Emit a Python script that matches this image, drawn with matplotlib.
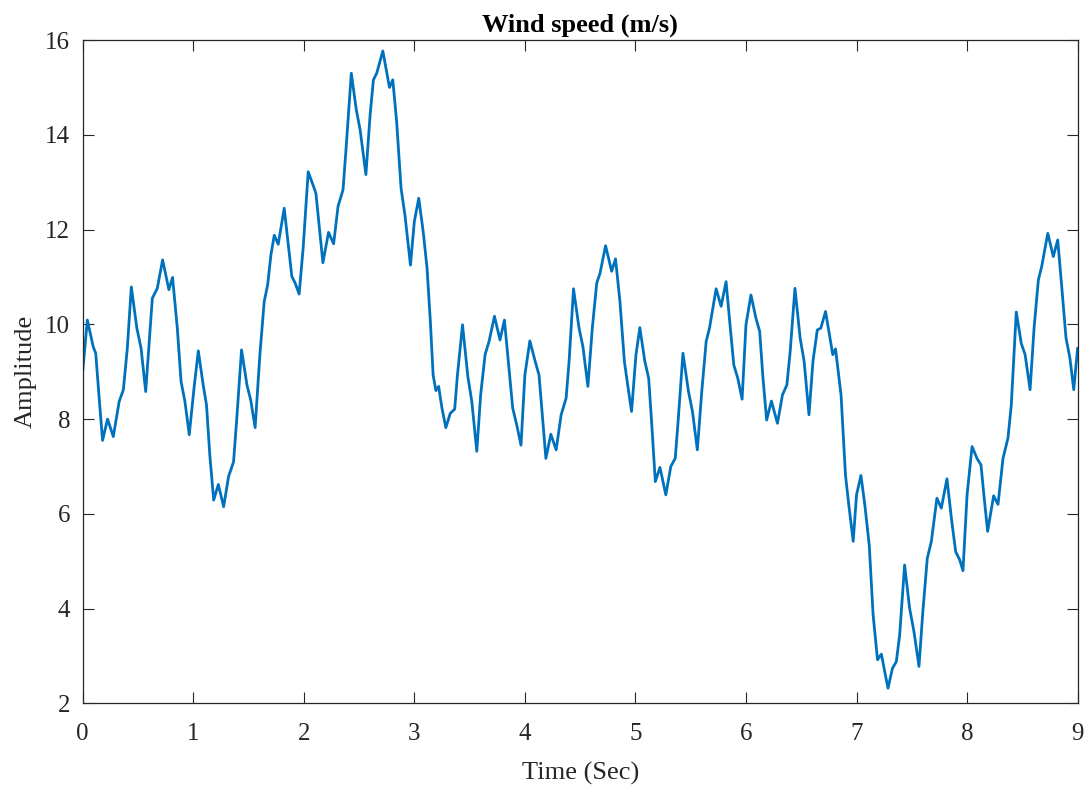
import numpy as np
import matplotlib.pyplot as plt

plt.rcParams['font.family'] = ['Liberation Serif', 'DejaVu Serif']

# wind speed samples (time in s, speed in m/s)
t = [0.0, 0.042, 0.096, 0.118, 0.154, 0.18, 0.225, 0.277, 0.33, 0.368,
     0.404, 0.44, 0.49, 0.528, 0.57, 0.63, 0.675, 0.723, 0.78, 0.813,
     0.856, 0.89, 0.925, 0.964, 1.007, 1.046, 1.09, 1.12, 1.15, 1.185,
     1.227, 1.275, 1.32, 1.365, 1.392, 1.437, 1.486, 1.52, 1.56, 1.603,
     1.642, 1.673, 1.703, 1.733, 1.769, 1.823, 1.853, 1.892, 1.922, 1.958,
     1.994, 2.04, 2.09, 2.11, 2.14, 2.173, 2.224, 2.27, 2.31, 2.355,
     2.382, 2.43, 2.475, 2.51, 2.562, 2.6, 2.63, 2.66, 2.715, 2.775,
     2.805, 2.84, 2.88, 2.915, 2.965, 3.0, 3.04, 3.08, 3.115, 3.145,
     3.17, 3.195, 3.22, 3.25, 3.285, 3.325, 3.365, 3.39, 3.436, 3.484,
     3.52, 3.565, 3.6, 3.64, 3.676, 3.725, 3.775, 3.815, 3.85, 3.89,
     3.926, 3.965, 4.0, 4.045, 4.093, 4.128, 4.158, 4.19, 4.235, 4.283,
     4.328, 4.373, 4.4, 4.44, 4.49, 4.525, 4.57, 4.61, 4.65, 4.68,
     4.73, 4.785, 4.82, 4.86, 4.9, 4.93, 4.965, 5.005, 5.04, 5.085,
     5.12, 5.148, 5.18, 5.222, 5.275, 5.32, 5.36, 5.386, 5.43, 5.48,
     5.516, 5.56, 5.6, 5.64, 5.67, 5.73, 5.775, 5.82, 5.85, 5.89,
     5.926, 5.965, 6.0, 6.045, 6.09, 6.124, 6.154, 6.187, 6.23, 6.285,
     6.33, 6.37, 6.4, 6.443, 6.49, 6.526, 6.57, 6.606, 6.645, 6.677,
     6.72, 6.785, 6.81, 6.86, 6.9, 6.93, 6.97, 7.0, 7.04, 7.075,
     7.115, 7.15, 7.19, 7.225, 7.255, 7.285, 7.325, 7.36, 7.39, 7.435,
     7.48, 7.52, 7.565, 7.6, 7.64, 7.677, 7.727, 7.767, 7.818, 7.858,
     7.897, 7.933, 7.963, 8.0, 8.045, 8.09, 8.126, 8.155, 8.186, 8.24,
     8.28, 8.325, 8.37, 8.4, 8.445, 8.49, 8.525, 8.57, 8.606, 8.645,
     8.675, 8.73, 8.78, 8.82, 8.855, 8.895, 8.93, 8.965, 9.0]

speed = [9.0, 10.09, 9.52, 9.39, 8.3, 7.55, 8.0, 7.63, 8.37, 8.62,
         9.5, 10.79, 9.92, 9.5, 8.58, 10.55, 10.76, 11.36, 10.73, 10.99,
         9.92, 8.79, 8.37, 7.67, 8.65, 9.44, 8.72, 8.3, 7.24, 6.29,
         6.62, 6.15, 6.79, 7.1, 7.95, 9.46, 8.72, 8.4, 7.82, 9.36,
         10.48, 10.83, 11.47, 11.88, 11.69, 12.45, 11.82, 11.01, 10.87, 10.64,
         11.6, 13.22, 12.9, 12.76, 12.06, 11.3, 11.94, 11.7, 12.49, 12.84,
         13.69, 15.3, 14.53, 14.1, 13.16, 14.42, 15.16, 15.3, 15.77, 15.0,
         15.16, 14.28, 12.87, 12.31, 11.25, 12.17, 12.66, 11.96, 11.19, 10.06,
         8.93, 8.6, 8.69, 8.23, 7.82, 8.12, 8.21, 8.93, 9.99, 8.9,
         8.37, 7.32, 8.51, 9.36, 9.64, 10.17, 9.67, 10.09, 9.22, 8.23,
         7.88, 7.45, 8.93, 9.65, 9.22, 8.93, 8.09, 7.17, 7.68, 7.35,
         8.09, 8.44, 9.22, 10.75, 9.92, 9.53, 8.69, 9.92, 10.87, 11.08,
         11.66, 11.12, 11.38, 10.48, 9.22, 8.72, 8.16, 9.36, 9.93, 9.22,
         8.86, 7.88, 6.68, 6.98, 6.4, 7.0, 7.17, 7.95, 9.39, 8.58,
         8.16, 7.35, 8.58, 9.64, 9.92, 10.75, 10.38, 10.9, 10.13, 9.14,
         8.86, 8.42, 9.99, 10.62, 10.13, 9.85, 8.86, 7.98, 8.38, 7.91,
         8.51, 8.72, 9.43, 10.76, 9.71, 9.22, 8.09, 9.22, 9.88, 9.92,
         10.27, 9.36, 9.48, 8.51, 6.82, 6.19, 5.42, 6.4, 6.81, 6.19,
         5.34, 3.87, 2.92, 3.04, 2.67, 2.32, 2.74, 2.88, 3.44, 4.92,
         4.01, 3.51, 2.78, 3.94, 5.06, 5.42, 6.33, 6.12, 6.74, 5.91,
         5.2, 5.03, 4.8, 6.4, 7.42, 7.17, 7.03, 6.33, 5.63, 6.38,
         6.2, 7.17, 7.6, 8.3, 10.26, 9.6, 9.36, 8.62, 9.92, 10.94,
         11.22, 11.92, 11.43, 11.78, 10.83, 9.71, 9.29, 8.62, 9.5]

x_ticks = np.arange(0, 10, 1)
y_ticks = np.arange(2, 17, 2)

fig = plt.figure(figsize=(10.85, 7.85), dpi=100)
ax = fig.add_axes([0.0762, 0.104, 0.917, 0.845])

ax.plot(t, speed, color='#0072BD', linewidth=2.0,
        solid_joinstyle='round', solid_capstyle='round')

ax.set_xlim(0, 9)
ax.set_ylim(2, 16)
ax.set_xticks(x_ticks)
ax.set_yticks(y_ticks)

ax.tick_params(direction='in', length=8, width=0.8, color='#262626',
               top=True, right=True, labelsize=18, labelcolor='#262626')
ax.tick_params(axis='x', pad=14)
ax.tick_params(axis='y', pad=9)
for s in ax.spines.values():
    s.set_color('#262626')
    s.set_linewidth(0.9)

ax.set_title('Wind speed (m/s)', fontsize=19, fontweight='bold', pad=6)
ax.set_xlabel('Time (Sec)', fontsize=19, color='#262626', labelpad=12)
ax.set_ylabel('Amplitude', fontsize=19, color='#262626', labelpad=6)

fig.savefig('out.png', dpi=100)
